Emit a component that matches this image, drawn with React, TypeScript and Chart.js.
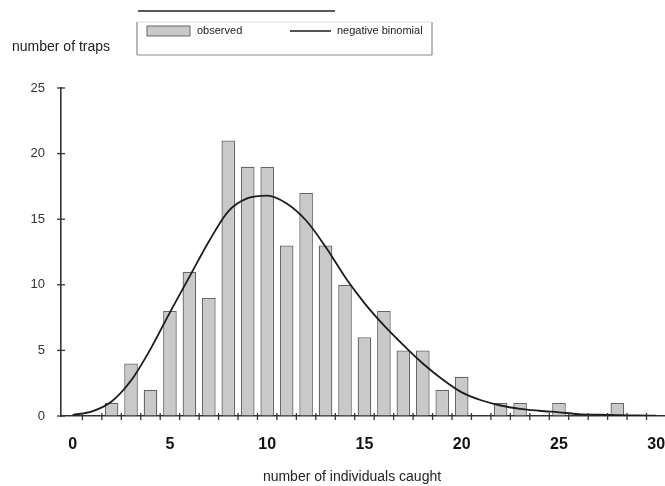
import React, { useEffect, useRef } from "react";
import { Chart, registerables } from "chart.js";

Chart.register(...registerables);

// ---- data ----
const categories = [0, 1, 2, 3, 4, 5, 6, 7, 8, 9, 10, 11, 12, 13, 14, 15, 16, 17, 18, 19, 20, 21, 22, 23, 24, 25, 26, 27, 28, 29, 30];
const observed = [0, 0, 1, 4, 2, 8, 11, 9, 21, 19, 19, 13, 17, 13, 10, 6, 8, 5, 5, 2, 3, 0, 1, 1, 0, 1, 0, 0, 1, 0, 0];
const negBinomial = [0.08, 0.35, 1.1, 2.7, 5.1, 7.9, 10.6, 13.3, 15.6, 16.6, 16.8, 16.2, 14.9, 12.9, 10.6, 8.6, 6.9, 5.4, 4.0, 2.8, 1.8, 1.2, 0.8, 0.55, 0.4, 0.28, 0.15, 0.1, 0.06, 0.04, 0.02];
const xTickLabels = [0, 5, 10, 15, 20, 25, 30];
const yTickLabels = [0, 5, 10, 15, 20, 25];
const seriesNames = ["observed", "negative binomial"];
const yAxisTitle = "number of traps";
const xAxisTitle = "number of individuals caught";

const FONT = '"Liberation Sans", Arial, Helvetica, sans-serif';
const BAR_FILL = "#c9c9c9";
const BAR_EDGE = "#666666";
const LINE_COLOR = "#1c1c1c";

const decorPlugin = {
  id: "decor",
  afterDraw(chart: any) {
    const { ctx, chartArea, scales } = chart;
    const xs = scales.x;
    const ys = scales.y;
    const line = (x1: number, y1: number, x2: number, y2: number) => {
      ctx.beginPath();
      ctx.moveTo(x1, y1);
      ctx.lineTo(x2, y2);
      ctx.stroke();
    };
    ctx.save();
    // crossing ticks on the y axis
    ctx.strokeStyle = "#333";
    ctx.lineWidth = 1.3;
    yTickLabels.forEach((v) => {
      const py = ys.getPixelForValue(v);
      line(chartArea.left - 4, py, chartArea.left + 4, py);
    });
    // small ticks between bars on the x axis
    categories.forEach((c) => {
      const px = xs.getPixelForValue(c + 0.5);
      if (px <= chartArea.right) line(px, chartArea.bottom - 3, px, chartArea.bottom + 4);
    });

    // axis titles
    ctx.fillStyle = "#222";
    ctx.font = `14px ${FONT}`;
    ctx.textBaseline = "middle";
    ctx.textAlign = "left";
    ctx.fillText(yAxisTitle, 12, 47);
    ctx.textAlign = "center";
    ctx.fillText(xAxisTitle, 352, 477);

    // legend box
    ctx.strokeStyle = "#222";
    ctx.lineWidth = 1.5;
    line(138, 11, 335, 11);
    ctx.strokeStyle = "#888";
    ctx.lineWidth = 1.2;
    line(137, 22, 137, 55);
    line(137, 55, 432, 55);
    line(432, 22, 432, 55);
    ctx.strokeStyle = "#ddd";
    line(137, 22, 432, 22);

    const ds = chart.data.datasets;
    // bar swatch
    ctx.fillStyle = ds[0].backgroundColor;
    ctx.fillRect(147, 26, 43, 10);
    ctx.strokeStyle = ds[0].borderColor;
    ctx.lineWidth = 1;
    ctx.strokeRect(147, 26, 43, 10);
    ctx.fillStyle = "#222";
    ctx.font = `11px ${FONT}`;
    ctx.textAlign = "left";
    ctx.fillText(ds[0].label, 197, 31);
    // line swatch
    ctx.strokeStyle = ds[1].borderColor;
    ctx.lineWidth = 1.3;
    line(290, 31, 331, 31);
    ctx.fillText(ds[1].label, 337, 31);
    ctx.restore();
  },
};

export default function App() {
  const canvasRef = useRef<HTMLCanvasElement | null>(null);

  useEffect(() => {
    const canvas = canvasRef.current;
    if (!canvas) return;
    const chart = new Chart(canvas, {
      type: "bar",
      data: {
        datasets: [
          {
            type: "bar",
            label: seriesNames[0],
            data: categories.map((c, i) => ({ x: c, y: observed[i] })),
            backgroundColor: BAR_FILL,
            borderColor: BAR_EDGE,
            borderWidth: 1.3,
            barPercentage: 0.7,
            categoryPercentage: 1.0,
            order: 1,
          },
          {
            type: "line",
            label: seriesNames[1],
            data: categories.map((c, i) => ({ x: c, y: negBinomial[i] })),
            borderColor: LINE_COLOR,
            borderWidth: 1.8,
            pointRadius: 0,
            fill: false,
            cubicInterpolationMode: "monotone",
            order: 0,
          },
        ] as any,
      },
      options: {
        responsive: false,
        animation: false,
        events: [],
        layout: { autoPadding: false, padding: { top: 88, left: 0, right: 0, bottom: 0 } } as any,
        plugins: {
          legend: { display: false },
          tooltip: { enabled: false },
          title: { display: false },
        },
        scales: {
          x: {
            type: "linear",
            offset: false,
            min: -0.6,
            max: 30.45,
            afterBuildTicks: (scale: any) => {
              scale.ticks = xTickLabels.map((v) => ({ value: v }));
            },
            afterFit: (scale: any) => {
              scale.height = 70;
              scale.paddingLeft = 0;
              scale.paddingRight = 0;
            },
            ticks: {
              font: { family: FONT, size: 16, weight: "bold" },
              color: "#111",
              padding: 19,
              maxRotation: 0,
              autoSkip: false,
            },
            grid: { drawOnChartArea: false, drawTicks: false, offset: false },
            border: { display: true, color: "#333", width: 1.6 },
          },
          y: {
            type: "linear",
            min: 0,
            max: 25,
            afterBuildTicks: (scale: any) => {
              scale.ticks = yTickLabels.map((v) => ({ value: v }));
            },
            afterFit: (scale: any) => {
              scale.width = 61;
              scale.paddingTop = 0;
              scale.paddingBottom = 0;
            },
            ticks: {
              font: { family: FONT, size: 13 },
              color: "#333",
              padding: 16,
            },
            grid: { drawOnChartArea: false, drawTicks: false },
            border: { display: true, color: "#333", width: 1.6 },
          },
        },
      },
      plugins: [decorPlugin],
    });
    return () => chart.destroy();
  }, []);

  return (
    <div style={{ position: "fixed", left: 0, top: 0, width: 665, height: 486, background: "#fff" }}>
      <canvas ref={canvasRef} width={665} height={486} />
    </div>
  );
}
